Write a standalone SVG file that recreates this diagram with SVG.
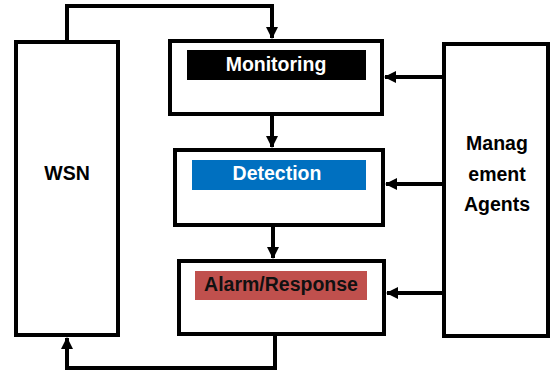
<svg xmlns="http://www.w3.org/2000/svg" width="552" height="372" viewBox="0 0 552 372">
<style>
.box{fill:#fff;stroke:#000;stroke-width:4}
.lbl{font-family:"Liberation Sans",Arial,sans-serif;font-weight:bold;font-size:19.5px;text-anchor:middle}
.con{fill:none;stroke:#000;stroke-width:4}
</style>
<defs>
<marker id="ah" markerUnits="userSpaceOnUse" markerWidth="12" markerHeight="12" viewBox="0 0 12 12" refX="11" refY="6" orient="auto">
<path d="M0,0 L12,6 L0,12 Z" fill="#000"/>
</marker>
</defs>
<rect width="552" height="372" fill="#fff"/>
<g id="wsn">
<rect class="box" x="16" y="42" width="102" height="293"/>
<text class="lbl" x="67" y="180">WSN</text>
</g>
<g id="monitoring">
<rect class="box" x="170" y="41" width="212" height="73"/>
<rect x="187" y="50" width="179" height="30" fill="#000"/>
<text class="lbl" x="276" y="71" fill="#fff">Monitoring</text>
</g>
<g id="detection">
<rect class="box" x="175" y="150" width="208" height="75"/>
<rect x="192" y="160" width="174" height="30" fill="#0070C0"/>
<text class="lbl" x="277" y="180" fill="#fff">Detection</text>
</g>
<g id="alarm">
<rect class="box" x="179" y="261" width="205" height="73"/>
<rect x="195" y="271" width="172" height="29" fill="#C0504D"/>
<text class="lbl" x="281" y="291" fill="#111">Alarm/Response</text>
</g>
<g id="mgmt">
<rect class="box" x="444" y="44" width="104" height="292"/>
<text class="lbl" x="497" y="150">Manag</text>
<text class="lbl" x="497" y="181">ement</text>
<text class="lbl" x="497" y="211">Agents</text>
</g>
<g id="connectors">
<path class="con" d="M67,40 V6 H272 V38" marker-end="url(#ah)"/>
<path class="con" d="M272,116 V147" marker-end="url(#ah)"/>
<path class="con" d="M273,227 V258" marker-end="url(#ah)"/>
<path class="con" d="M275,336 V368 H67 V338" marker-end="url(#ah)"/>
<path class="con" d="M442,77 H385" marker-end="url(#ah)"/>
<path class="con" d="M442,184 H386" marker-end="url(#ah)"/>
<path class="con" d="M442,293 H387" marker-end="url(#ah)"/>
</g>
</svg>
